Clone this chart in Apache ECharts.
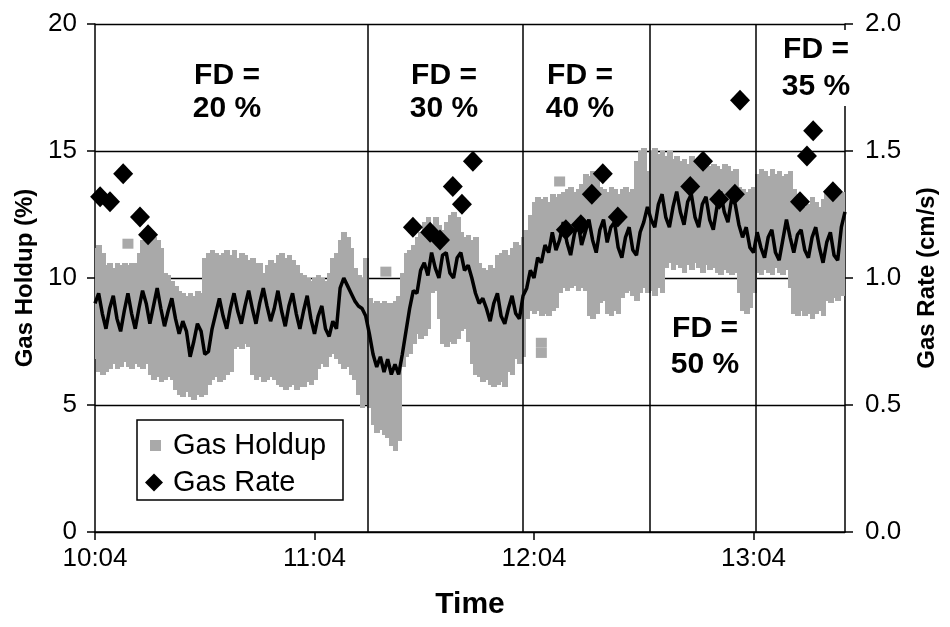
<!DOCTYPE html>
<html>
<head>
<meta charset="utf-8">
<script src="https://cdn.jsdelivr.net/npm/echarts@6/dist/echarts.min.js"></script>
<style>
  html, body { margin: 0; padding: 0; background: #fff; }
  #chart { width: 950px; height: 627px; }
</style>
</head>
<body>
<div id="chart"></div>
<script>
// Time is counted in minutes from 10:04; array index = minute.
const xTickMinutes = [0, 60, 120, 180];
const xTickLabels = ['10:04', '11:04', '12:04', '13:04'];

// Flow-distribution (FD) change points, minutes from 10:04
const fdBoundaries = [74.5, 117, 151.5, 180.5];

// Gas holdup, running average (%), one value per minute
const holdupAvg = [
  9.0, 9.4, 8.6, 8.0, 8.8, 9.3, 8.4, 7.9, 8.7, 9.4, 8.6, 8.0, 8.8, 9.5, 9.0, 8.2, 8.9, 9.6, 8.8, 8.1,
  8.7, 9.2, 8.4, 7.8, 8.3, 7.9, 6.9, 7.5, 8.2, 7.9, 7.0, 7.1, 8.0, 8.6, 9.2, 8.5, 8.0, 8.8,
  9.4, 8.7, 8.2, 8.9, 9.5, 8.8, 8.2, 9.0, 9.6, 8.9, 8.3, 8.8, 9.5, 8.7, 8.1, 8.9, 9.4, 8.6,
  8.0, 8.7, 9.3, 8.4, 7.8, 8.5, 8.9, 8.0, 7.7, 8.3, 8.0, 9.6, 10.0, 9.7, 9.4, 9.1, 8.9, 8.8, 8.5,
  7.8, 7.0, 6.5, 6.9, 6.3, 6.8, 6.2, 6.6, 6.2, 7.0, 7.9, 8.8, 9.5, 9.4, 10.3, 10.6,
  10.1, 11.0, 10.4, 10.0, 10.9, 11.0, 10.2, 10.0, 10.8, 11.0, 10.3, 10.5, 10.0, 9.4, 9.0, 9.2,
  8.8, 8.3, 9.0, 9.4, 8.5, 8.2, 8.8, 9.3, 8.6, 8.4, 9.3, 9.6, 10.3, 10.0, 10.8, 10.6, 11.3, 11.0,
  11.8, 11.1, 11.5, 12.2, 11.4, 10.9, 11.7, 12.2, 11.3, 11.8, 12.3, 11.5, 11.0, 11.9, 12.3, 11.4,
  12.0, 12.2, 11.2, 10.8, 11.6, 12.0, 11.1, 10.9, 11.8, 12.2, 12.8, 12.3,
  12.0, 12.9, 13.3, 12.4, 12.0, 12.8, 13.4, 12.6, 12.1, 13.0, 13.3, 12.4, 12.0, 12.9, 13.2, 12.3,
  11.9, 12.8, 13.4, 12.6, 12.2, 13.1, 12.9, 12.1,
  11.6, 12.0, 11.2, 11.0,
  11.8, 11.2, 10.8, 11.6, 11.9, 11.0, 10.7, 11.5, 12.3, 11.6, 11.0, 11.7, 11.9, 11.1, 10.8, 11.6,
  12.0, 11.2, 10.6, 11.4, 11.8, 10.9, 10.7, 12.0, 12.6
];

// Spread of the individual gas holdup readings per minute (%): upper and lower edge
const holdupHigh = [
  11.2, 11.3, 11.0, 10.5, 10.6, 10.4, 10.6, 10.5,
  10.6, 10.5, 10.6, 10.6,
  11.0, 11.5, 11.6, 11.4, 11.6, 11.5, 11.2,
  10.2, 10.1, 9.9, 9.7,
  9.5, 9.4, 9.3, 9.4, 9.3, 9.5, 9.4,
  10.8, 11.0, 11.1, 11.0, 10.9, 11.0, 11.1, 10.9,
  11.1, 10.8, 11.0, 10.9, 10.7, 10.8, 10.6, 10.6,
  10.2, 10.5, 10.7, 10.6,
  10.9, 11.0, 10.8, 10.9, 10.7, 10.5,
  10.2, 10.1, 10.0, 9.9, 10.0, 10.1, 10.0, 9.9, 10.2,
  10.8, 11.0, 11.5, 11.8, 11.6, 11.2,
  10.4, 10.1, 10.0, 10.8,
  9.2, 9.0, 9.1, 9.0,
  9.1, 9.0,
  9.0, 9.1, 9.3,
  10.2, 11.0, 11.1, 11.3,
  11.6, 11.8, 12.2, 12.4, 12.0, 12.4, 12.1, 11.9, 12.2,
  12.5, 12.6, 12.4,
  11.8, 11.6, 11.7, 11.5, 11.6,
  10.6, 10.4, 10.3, 10.5, 10.4, 10.9,
  11.0, 11.1, 10.9, 11.2, 11.4, 11.3,
  11.6, 11.9,
  12.5, 13.0, 13.2, 13.1, 13.2, 13.0,
  13.3, 13.2, 13.3,
  13.4, 13.5, 13.6, 13.4, 13.5, 13.7,
  14.1, 14.0, 14.2, 14.1,
  13.6, 13.5, 13.4, 13.6, 13.5, 13.3, 13.5, 13.6, 13.4, 13.5,
  14.6, 15.0, 15.1,
  14.2, 15.0, 15.1,
  14.9, 15.0, 14.8, 15.0, 14.7,
  14.8, 14.6, 14.7, 14.5, 14.8, 14.6, 14.4, 14.5, 14.6, 14.4, 14.5,
  14.4, 14.3, 14.5, 14.4, 14.2, 14.3,
  13.6, 13.5, 13.4, 13.5, 13.6,
  14.1, 14.3, 14.2, 14.0, 14.3, 14.1, 14.2, 14.0, 14.1, 14.2,
  13.5, 13.3, 13.0, 12.8, 12.9, 13.2, 13.0, 12.8, 13.1,
  13.4, 13.5, 13.3, 13.5, 13.4, 13.0
];

const holdupLow = [
  6.8, 6.3, 6.2, 6.3, 6.4,
  6.6, 6.4, 6.5, 6.7, 6.5, 6.4, 6.6, 6.5, 6.4, 6.6,
  6.2, 6.0, 6.1, 5.9, 6.0, 6.1, 6.0,
  5.6, 5.4, 5.3, 5.5, 5.3, 5.2, 5.4, 5.3, 5.4,
  5.8, 6.0, 6.1, 5.9, 6.0, 6.2,
  6.3, 7.2, 7.3, 7.2, 7.4, 7.3, 6.2, 6.0, 6.1,
  5.9, 6.0, 6.1, 6.0, 5.8,
  5.7, 5.6, 5.7, 5.8, 5.6, 5.7, 5.7, 5.9, 5.8, 6.0,
  6.4, 6.6, 6.5, 6.9, 7.0, 6.8, 6.6, 6.4, 6.5, 6.2,
  6.0, 5.4, 4.9, 5.0,
  4.9, 4.2, 3.9, 4.0, 3.8, 3.7, 3.4, 3.2, 3.6,
  6.5, 6.9, 7.0, 7.4,
  7.8, 7.6, 7.7, 8.0, 9.4, 9.5, 8.4,
  7.4, 7.3, 7.5, 7.4, 7.6,
  7.9, 8.0, 7.5,
  6.6, 6.2, 6.1, 5.9, 6.0, 5.8, 5.7, 5.8, 5.9, 5.7, 6.3, 6.2, 6.8,
  6.6, 6.9,
  8.4, 8.7, 8.6, 8.7, 8.5, 8.6,
  8.5, 8.7, 8.8,
  9.4, 9.6, 9.5, 9.6, 9.7, 9.5, 9.6, 9.5,
  8.5, 8.4, 8.6,
  9.0, 9.1,
  8.6, 8.5, 8.7, 8.6,
  9.2, 9.4, 9.5, 9.3, 9.1, 9.4, 9.6,
  9.4, 9.5, 9.3, 9.6, 9.4,
  10.4, 10.6, 10.3, 10.5, 10.4, 10.2,
  10.5, 10.3, 10.6, 10.4, 10.2, 10.5, 10.3, 10.4,
  10.2, 10.1, 10.3, 10.2, 10.1, 10.2,
  9.4, 8.7, 8.6, 8.8,
  9.4,
  10.2, 10.1, 10.3, 10.2, 10.1, 10.4, 10.2, 10.1, 10.3, 9.6,
  8.6, 8.5, 8.7, 8.5, 8.6, 8.4, 8.6, 8.7, 8.5,
  9.1, 9.0, 9.2, 9.1, 9.3, 9.5
];

// Isolated holdup readings away from the main band: [minute, %]
const holdupStray = [[9, 11.35], [79.5, 10.25], [122, 7.45], [122, 7.05], [127, 13.8]];

// Gas rate (cm/s) set points
const rateTimes = [1.4, 4.1, 7.7, 12.3, 14.5,
  86.9, 91.6, 94.3, 97.8, 100.3, 103.3,
  128.7, 132.8, 135.8, 138.8, 142.9,
  162.7, 166.2, 170.6, 174.9, 176.3,
  192.7, 194.6, 196.3, 201.7];
const rateValues = [1.32, 1.30, 1.41, 1.24, 1.17,
  1.20, 1.18, 1.15, 1.36, 1.29, 1.46,
  1.19, 1.21, 1.33, 1.41, 1.24,
  1.36, 1.46, 1.31, 1.33, 1.70,
  1.30, 1.48, 1.58, 1.34];

// FD annotations
const fdLabels = [
  { text: 'FD =\n20 %', x: 227, y: 59, lh: 33 },
  { text: 'FD =\n30 %', x: 444, y: 59, lh: 33 },
  { text: 'FD =\n40 %', x: 580, y: 59, lh: 33 },
  { text: 'FD =\n50 %', x: 705, y: 311, lh: 36 },
  { text: 'FD =\n35 %', x: 816, y: 30, lh: 37, boxed: true }
];

const FONT = '"Liberation Sans", Arial, sans-serif';
const BLACK = '#000';
const GRAY = '#a9a9a9';

const chart = echarts.init(document.getElementById('chart'));

const bandData = holdupLow.map((lo, i) => [i, lo, holdupHigh[i]]);
const avgData = holdupAvg.map((v, i) => [i, v]);
const rateData = rateTimes.map((t, i) => [t, rateValues[i]]);

const axisLine = { show: true, onZero: false, lineStyle: { color: BLACK, width: 1.5 } };
const axisTick = { show: true, inside: false, length: 8, lineStyle: { color: BLACK, width: 1.5 } };
const tickText = { fontFamily: FONT, fontSize: 26, color: BLACK };
const nameText = { fontFamily: FONT, fontSize: 24, fontWeight: 'bold', color: BLACK };

const option = {
  animation: false,
  backgroundColor: '#fff',
  grid: { left: 95, right: 105, top: 24, bottom: 95, outerBoundsMode: 'none' },
  xAxis: {
    type: 'value', min: 0, max: 205, interval: 60,
    name: 'Time', nameLocation: 'middle', nameGap: 58,
    nameTextStyle: { fontFamily: FONT, fontSize: 30, fontWeight: 'bold', color: BLACK },
    axisLine: axisLine,
    axisTick: Object.assign({}, axisTick, { customValues: xTickMinutes }),
    axisLabel: Object.assign({}, tickText, {
      customValues: xTickMinutes, margin: 14,
      formatter: v => { const k = xTickMinutes.indexOf(v); return k >= 0 ? xTickLabels[k] : ''; }
    }),
    splitLine: { show: false }
  },
  yAxis: [
    {
      type: 'value', min: 0, max: 20, interval: 5, position: 'left',
      name: 'Gas Holdup (%)', nameLocation: 'middle', nameRotate: 90, nameGap: 57,
      nameTextStyle: nameText,
      axisLine: axisLine, axisTick: axisTick,
      axisLabel: Object.assign({}, tickText, { margin: 18 }),
      splitLine: { show: true, lineStyle: { color: BLACK, width: 1.3 } }
    },
    {
      type: 'value', min: 0, max: 2, interval: 0.5, position: 'right',
      name: 'Gas Rate (cm/s)', nameLocation: 'middle', nameRotate: 90, nameGap: 70,
      nameTextStyle: nameText,
      axisLine: axisLine, axisTick: axisTick,
      axisLabel: Object.assign({}, tickText, { margin: 20, formatter: v => v.toFixed(1) }),
      splitLine: { show: false }
    }
  ],
  legend: [
    {
      data: [{ name: 'Gas Holdup', icon: 'rect' }],
      left: 145, top: 426, padding: 5, selectedMode: false,
      itemWidth: 11, itemHeight: 11,
      itemStyle: { opacity: 1 },
      textStyle: { fontFamily: FONT, fontSize: 29, color: BLACK, padding: [0, 0, 0, 7] }
    },
    {
      data: [{ name: 'Gas Rate', icon: 'diamond' }],
      left: 140, top: 463, padding: 5, selectedMode: false,
      itemWidth: 18, itemHeight: 18,
      itemStyle: { opacity: 1 },
      textStyle: { fontFamily: FONT, fontSize: 29, color: BLACK, padding: [0, 0, 0, 5] }
    }
  ],
  graphic: [
    {
      type: 'rect', z: 1,
      shape: { x: 137, y: 420, width: 206, height: 80 },
      style: { fill: null, stroke: BLACK, lineWidth: 1.5 }
    }
  ].concat(fdLabels.map(l => ({
    type: 'text', z: 100, x: l.x, y: l.y,
    style: Object.assign({
      text: l.text, font: 'bold 30px ' + FONT, fill: BLACK,
      textAlign: 'center', textVerticalAlign: 'top', lineHeight: l.lh
    }, l.boxed ? { backgroundColor: '#fff', padding: [1, 3, 1, 3] } : {})
  }))),
  series: [
    {
      name: 'Gas Holdup', type: 'custom', z: 2, clip: true,
      itemStyle: { color: GRAY, opacity: 1 },
      encode: { x: 0, y: [1, 2] },
      data: bandData,
      renderItem: (params, api) => {
        const t = api.value(0);
        const p1 = api.coord([t - 0.5, api.value(2)]);
        const p2 = api.coord([t + 0.5, api.value(1)]);
        // whole-pixel columns so neighbouring minutes join without seams
        const x0 = Math.floor(p1[0]);
        const x1 = Math.ceil(p2[0]) + 1;
        return {
          type: 'rect',
          shape: { x: x0, y: Math.round(p1[1]), width: x1 - x0, height: Math.round(p2[1]) - Math.round(p1[1]) },
          style: { fill: api.visual('color') }
        };
      },
      markLine: {
        silent: true, symbol: ['none', 'none'], z: 5,
        label: { show: false },
        lineStyle: { color: BLACK, width: 1.5, type: 'solid' },
        data: fdBoundaries.map(v => ({ xAxis: v }))
      }
    },
    {
      name: 'Gas Holdup', type: 'scatter', z: 2,
      symbol: 'rect', symbolSize: [11, 10],
      itemStyle: { color: GRAY, opacity: 1 },
      data: holdupStray
    },
    {
      name: 'Holdup average', type: 'line', z: 4,
      showSymbol: false, symbol: 'none',
      lineStyle: { color: BLACK, width: 3.5 },
      data: avgData
    },
    {
      name: 'Gas Rate', type: 'scatter', yAxisIndex: 1, z: 6,
      symbol: 'diamond', symbolSize: [20, 21],
      itemStyle: { color: BLACK, opacity: 1 },
      data: rateData
    }
  ]
};

chart.setOption(option);
</script>
</body>
</html>
